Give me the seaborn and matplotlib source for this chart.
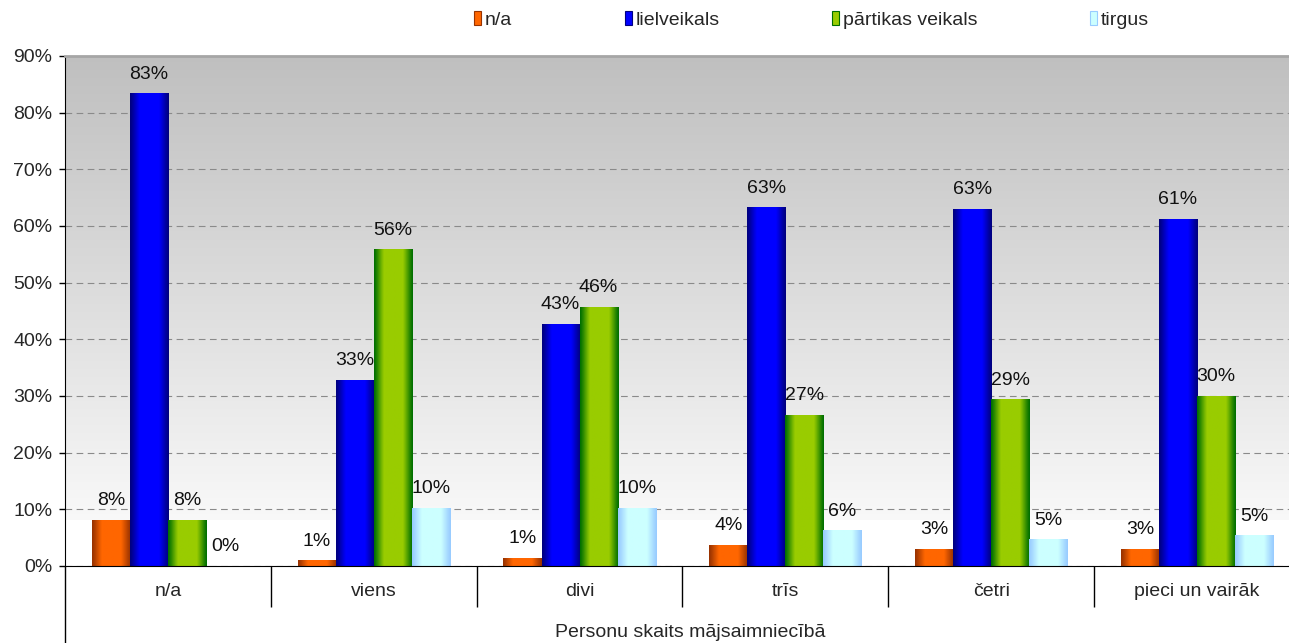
import numpy as np
import pandas as pd
import seaborn as sns
import matplotlib.pyplot as plt
from matplotlib.patches import Patch
from matplotlib.colors import to_rgb

# Data
categories = ['n/a', 'viens', 'divi', 'trīs', 'četri', 'pieci un vairāk']
series = ['n/a', 'lielveikals', 'pārtikas veikals', 'tirgus']
val_na = [8.1, 0.9, 1.4, 3.7, 3.0, 3.0]
val_liel = [83.3, 32.8, 42.7, 63.2, 63.0, 61.2]
val_part = [8.1, 55.8, 45.6, 26.6, 29.3, 30.0]
val_tirg = [0.0, 10.2, 10.2, 6.2, 4.6, 5.3]

rows = []
for name, vals in zip(series, [val_na, val_liel, val_part, val_tirg]):
    for cat, v in zip(categories, vals):
        rows.append({'cat': cat, 'series': name, 'value': v})
df = pd.DataFrame(rows)

# edge colour, centre colour for the cylinder-like gradients
grad = {
    'n/a': ('#993300', '#ff6600'),
    'lielveikals': ('#000080', '#0000ff'),
    'pārtikas veikals': ('#006f00', '#99cc00'),
    'tirgus': ('#99ccff', '#ccffff'),
}

FS = 14
sns.set_style('white')
plt.rcParams['font.family'] = ['Liberation Sans', 'DejaVu Sans']

fig = plt.figure(figsize=(12.89, 6.43), dpi=100)
ax = fig.add_axes([65 / 1289, 1 - 566 / 643, 1 - 65 / 1289, (566 - 56) / 643])

palette = {k: v[1] for k, v in grad.items()}
sns.barplot(data=df, x='cat', y='value', hue='series', hue_order=series,
            order=categories, palette=palette, width=0.74, legend=False,
            errorbar=None, ax=ax)

# background: grey at top fading to white
ymax = 90
bg = np.linspace(0.75, 0.975, 256).reshape(-1, 1)
bg = np.dstack([bg, bg, bg])
ax.imshow(bg, extent=(-0.5, 5.5, 8.1, ymax), aspect='auto', zorder=0,
          interpolation='bilinear')

# replace flat fills with horizontal gradients
t = np.linspace(0, 1, 64)
w = np.clip(1.4 * np.sin(np.pi * t), 0, 1) ** 1.2
for name, cont in zip(series, ax.containers):
    e = np.array(to_rgb(grad[name][0]))
    c = np.array(to_rgb(grad[name][1]))
    img = (e[None, :] * (1 - w[:, None]) + c[None, :] * w[:, None])[None, :, :]
    for p in cont.patches:
        h = p.get_height()
        if h <= 0:
            continue
        x0 = p.get_x()
        ax.imshow(img, extent=(x0, x0 + p.get_width(), 0, h), aspect='auto',
                  zorder=2, interpolation='bilinear')
        p.set_facecolor('none')
        p.set_edgecolor('none')
    labels = ['{:.0f}%'.format(v) for v in cont.datavalues]
    ax.bar_label(cont, labels=labels, padding=8, fontsize=FS, color='#111111')

ax.set_xlim(-0.5, 5.5 - 11 / 206)
ax.set_ylim(0, ymax)
ax.set_yticks(np.arange(0, 91, 10))
ax.set_yticklabels(['{}%'.format(v) for v in range(0, 91, 10)])
ax.yaxis.grid(True, linestyle=(0, (6, 4)), color='#8a8a8a', linewidth=0.8)
ax.set_axisbelow(True)

ax.tick_params(axis='y', which='major', left=True, length=4, width=1,
               color='black', labelsize=FS, pad=5)
ax.tick_params(axis='x', which='major', length=0, labelsize=FS, pad=12)
ax.set_xticks(np.arange(0.5, 5.5, 1), minor=True)
ax.tick_params(axis='x', which='minor', bottom=True, length=29.5, width=1,
               color='black', direction='out')

ax.spines['right'].set_visible(False)
ax.spines['top'].set_color('#a6a6a6')
ax.spines['top'].set_linewidth(2)
ax.spines['left'].set_color('black')
ax.spines['bottom'].set_color('black')
ax.plot([-0.5, -0.5], [0, -0.2], transform=ax.get_xaxis_transform(),
        color='black', lw=1, clip_on=False)

ax.set_xlabel('Personu skaits mājsaimniecībā', fontsize=FS)
ax.xaxis.set_label_coords((690 - 65) / 1224, (566 - 624) / 510)
ax.set_ylabel('')

handles = [Patch(facecolor=grad[s][1], edgecolor=grad[s][0], lw=0.8) for s in series]
fig.legend(handles, series, loc='center left', ncol=4, frameon=False,
           bbox_to_anchor=(474 / 1289, 1 - 20 / 643), fontsize=FS,
           handlelength=0.35, handleheight=0.7, handletextpad=0.2,
           columnspacing=5.8, borderpad=0, borderaxespad=0)

fig.savefig('out.png', dpi=100)
